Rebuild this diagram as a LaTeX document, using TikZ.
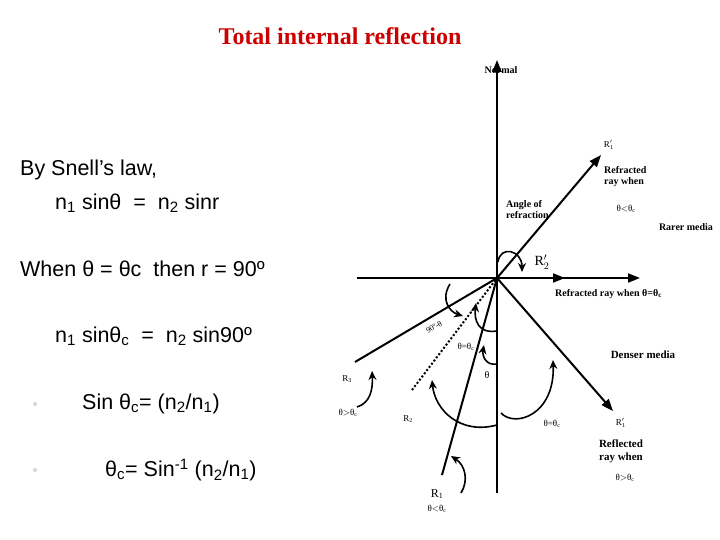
\documentclass[tikz,border=0pt]{standalone}
\usepackage{fontspec}
\setmainfont{Liberation Serif}
\newfontfamily\arialf{Liberation Sans}
\usetikzlibrary{arrows.meta}
\begin{document}
\begin{tikzpicture}[x=1pt,y=-1pt,
  ray/.style={line width=2pt},
  arw/.style={-{Triangle[length=12pt,width=9pt]}},
  carr/.style={line width=1.6pt,-{Stealth[length=9pt,width=8pt]}},
  lab/.style={font=\bfseries\fontsize{10}{11}\selectfont,align=center,inner sep=0pt},
  sm/.style={font=\fontsize{9}{10}\selectfont},
  big/.style={font=\arialf\fontsize{21.5}{25}\selectfont,anchor=west,inner sep=0pt}]
\useasboundingbox (0,0) rectangle (720,540);
\node[font=\bfseries\fontsize{24}{28}\selectfont,text=red!80!black] (title) at (340,36) {Total internal reflection};
\node[big] (t1) at (20,170) {By Snell’s law,};
\node[big] (t2) at (55,203) {n\textsubscript{1} sinθ \ = \ n\textsubscript{2} sinr};
\node[big] (t3) at (20,269) {When θ = θc \ then r = 90º};
\node[big] (t4) at (55,336) {n\textsubscript{1} sinθ\textsubscript{c} \ = \ n\textsubscript{2} sin90º};
\node[big] (t5) at (82,404) {Sin θ\textsubscript{c}= (n\textsubscript{2}/n\textsubscript{1})};
\node[big] (t6) at (105,470) {θ\textsubscript{c}= Sin\textsuperscript{-1} (n\textsubscript{2}/n\textsubscript{1})};
\node[circle,fill=gray!30,inner sep=1.5pt] (b1) at (35,404) {};
\node[circle,fill=gray!30,inner sep=1.5pt] (b2) at (35,470) {};
% diagram
\coordinate (O) at (497,278);
\coordinate (N) at (497,60);
\coordinate (Nb) at (497,493);
\coordinate (HL) at (357,278);
\coordinate (HR) at (640,278);
\coordinate (HM) at (565,278);
\coordinate (Rf) at (601,155);
\coordinate (R3e) at (355,362);
\coordinate (R2e) at (412,390);
\coordinate (R1e) at (442,475);
\coordinate (Rr) at (613,411);
\draw[ray,arw] (Nb) -- (N);
\draw[ray,arw] (HL) -- (HR);
\draw[ray,arw] (O) -- (HM);
\draw[ray,arw] (O) -- (Rf);
\draw[ray] (R3e) -- (O);
\draw[line width=2pt,dotted] (R2e) -- (O);
\draw[ray] (R1e) -- (O);
\draw[ray,arw] (O) -- (Rr);
% curved arrows
\draw[carr] (498,262) .. controls (500,245) and (522,250) .. (522,272);
\draw[carr] (450,284) .. controls (440,300) and (450,312) .. (463,316);
\draw[carr] (497,331) .. controls (478,334) and (474,320) .. (476,303);
\draw[carr] (497,364) .. controls (486,366) and (482,356) .. (484,345);
\draw[carr] (497,425) .. controls (460,435) and (435,410) .. (432,380);
\draw[carr] (501,413) .. controls (515,428) and (555,415) .. (553,360);
\draw[carr] (357,407) .. controls (370,403) and (373,390) .. (372,371);
\draw[carr] (461,493) .. controls (469,480) and (465,465) .. (451,456);
% labels
\node[lab] (lN) at (501,70) {Normal};
\node[lab,sm] (lR1p) at (609,145) {R$'_1$};
\node[lab,align=left,anchor=west] (lRef) at (604,177) {Refracted\\ray when};
\node[lab,sm] (lc1) at (626,209) {θ$<$θ\textsubscript{c}};
\node[lab,align=left,anchor=west] (lAng) at (506,210) {Angle of\\refraction};
\node[lab] (lRar) at (686,227) {Rarer media};
\node[lab,font=\fontsize{14}{15}\selectfont] (lR2p) at (542,262) {R$'_2$};
\node[lab,anchor=west] (lRe2) at (555,294) {Refracted ray when θ=θ\textsubscript{c}};
\node[lab,rotate=30,font=\fontsize{8}{9}\selectfont] (l90) at (434,327) {90º-θ};
\node[lab,sm] (lthc) at (466,347) {θ=θ\textsubscript{c}};
\node[lab,font=\fontsize{10}{11}\selectfont] (lth) at (487,375) {θ};
\node[lab,font=\bfseries\fontsize{11}{12}\selectfont] (lDen) at (643,355) {Denser media};
\node[lab,sm] (lR3) at (347,379) {R\textsubscript{3}};
\node[lab,sm] (lgt) at (348,413) {θ$>$θ\textsubscript{c}};
\node[lab,sm] (lR2) at (408,419) {R\textsubscript{2}};
\node[lab,sm] (leq) at (552,424) {θ=θ\textsubscript{c}};
\node[lab,sm] (lR1pp) at (621,423) {R$'_1$};
\node[lab,font=\bfseries\fontsize{11}{13}\selectfont] (lRefl) at (621,451) {Reflected\\ray when};
\node[lab,sm] (lgt2) at (625,478) {θ$>$θ\textsubscript{c}};
\node[lab,font=\fontsize{12}{13}\selectfont] (lR1) at (437,494) {R\textsubscript{1}};
\node[lab,sm] (llt) at (437,509) {θ$<$θ\textsubscript{c}};
\end{tikzpicture}
\end{document}
